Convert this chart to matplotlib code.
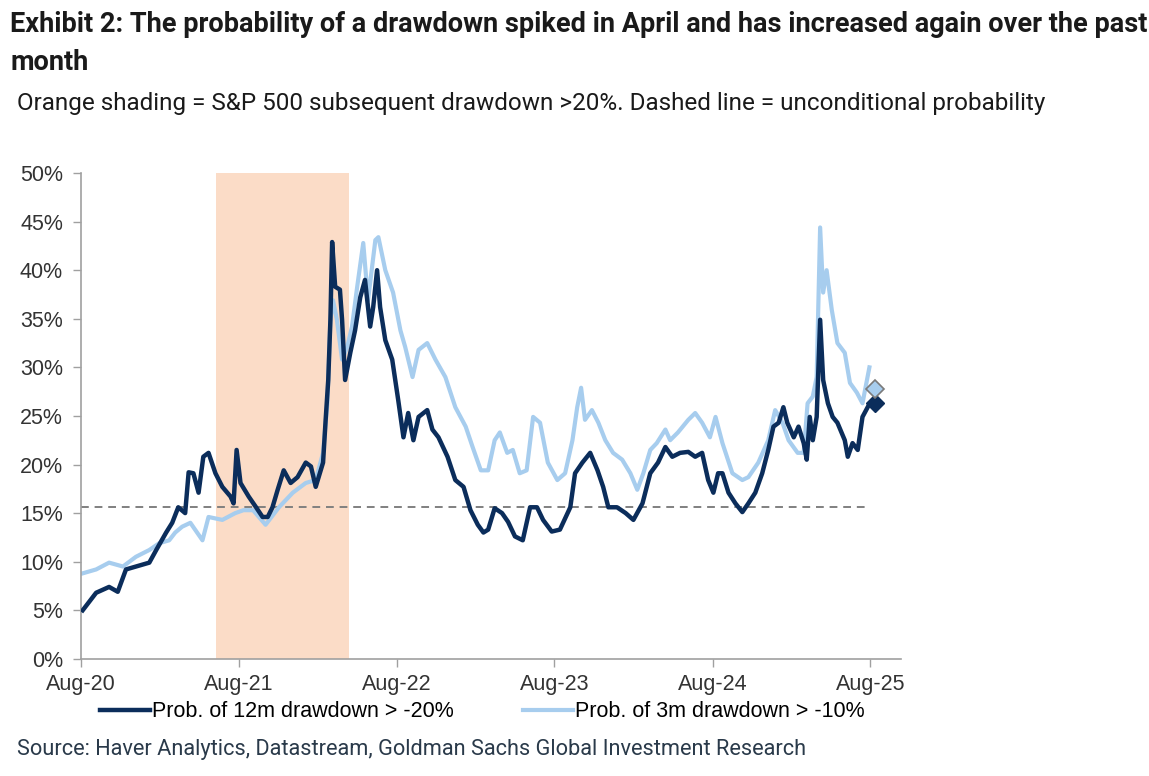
import matplotlib
matplotlib.use("Agg")
import matplotlib.pyplot as plt
import matplotlib.dates as mdates
import pandas as pd

# Prob. of 12m drawdown > -20% (dark)
dark_dates = [
    "2020-08-05", "2020-09-05", "2020-10-05", "2020-10-25", "2020-11-13", "2020-12-06",
    "2021-01-06", "2021-01-22", "2021-02-14", "2021-02-28", "2021-03-14", "2021-03-30",
    "2021-04-07", "2021-04-18", "2021-04-30", "2021-05-11", "2021-05-23", "2021-06-08",
    "2021-06-24", "2021-07-13", "2021-07-20", "2021-07-27", "2021-08-05", "2021-08-24",
    "2021-09-10", "2021-09-25", "2021-10-07", "2021-10-18", "2021-10-30", "2021-11-13",
    "2021-11-29", "2021-12-15", "2022-01-03", "2022-01-15", "2022-01-26", "2022-02-12",
    "2022-02-18", "2022-02-24", "2022-03-01", "2022-03-05", "2022-03-12", "2022-03-23",
    "2022-03-28", "2022-04-04", "2022-04-16", "2022-04-27", "2022-05-09", "2022-05-20",
    "2022-06-01", "2022-06-08", "2022-06-17", "2022-06-24", "2022-07-06", "2022-07-22",
    "2022-08-05", "2022-08-17", "2022-08-28", "2022-09-09", "2022-09-21", "2022-10-11",
    "2022-10-23", "2022-11-06", "2022-11-27", "2022-12-15", "2023-01-03", "2023-01-19",
    "2023-02-05", "2023-02-18", "2023-03-01", "2023-03-16", "2023-04-02", "2023-04-16",
    "2023-05-02", "2023-05-20", "2023-06-06", "2023-06-22", "2023-07-06", "2023-07-26",
    "2023-08-14", "2023-09-07", "2023-09-18", "2023-10-05", "2023-10-23", "2023-11-09",
    "2023-11-22", "2023-12-04", "2023-12-24", "2024-01-13", "2024-01-31", "2024-02-21",
    "2024-03-10", "2024-03-28", "2024-04-14", "2024-04-30", "2024-05-18", "2024-06-06",
    "2024-06-22", "2024-07-08", "2024-07-22", "2024-08-03", "2024-08-14", "2024-08-24",
    "2024-09-07", "2024-09-23", "2024-10-09", "2024-10-23", "2024-11-08", "2024-11-24",
    "2024-12-08", "2024-12-20", "2025-01-01", "2025-01-12", "2025-01-21", "2025-02-05",
    "2025-02-16", "2025-02-28", "2025-03-07", "2025-03-14", "2025-03-21", "2025-03-30",
    "2025-04-07", "2025-04-14", "2025-04-25", "2025-05-06", "2025-05-17", "2025-06-03",
    "2025-06-10", "2025-06-21", "2025-07-03", "2025-07-14", "2025-07-26",
]
dark_vals = [
    5.0, 6.8, 7.4, 6.9, 9.2, 9.5,
    9.9, 11.2, 13.0, 14.0, 15.6, 15.0,
    19.2, 19.1, 17.1, 20.8, 21.2, 19.1,
    17.7, 16.7, 16.0, 21.5, 18.1, 16.7,
    15.6, 14.6, 14.6, 15.6, 17.4, 19.4,
    18.1, 18.7, 20.2, 19.8, 17.7, 20.2,
    24.6, 28.7, 34.9, 42.9, 38.3, 38.0,
    34.9, 28.7, 31.5, 33.8, 37.2, 39.0,
    34.2, 36.2, 40.0, 36.2, 32.8, 30.8,
    26.6, 22.8, 25.3, 22.5, 24.9, 25.6,
    23.6, 22.8, 20.8, 18.4, 17.7, 15.3,
    13.8, 13.0, 13.3, 15.5, 15.0, 14.1,
    12.6, 12.2, 15.6, 15.6, 14.3, 13.1,
    13.3, 15.6, 19.1, 20.2, 21.2, 19.4,
    17.7, 15.6, 15.6, 15.0, 14.3, 16.0,
    19.1, 20.2, 21.8, 20.8, 21.2, 21.3,
    20.8, 21.2, 18.4, 17.1, 19.1, 19.1,
    17.1, 16.0, 15.1, 16.0, 17.1, 19.1,
    21.5, 23.9, 24.3, 25.9, 24.3, 22.8,
    23.9, 22.2, 20.5, 24.9, 22.5, 24.9,
    34.9, 28.7, 26.3, 24.9, 24.3, 22.5,
    20.8, 22.2, 21.5, 24.9, 25.9,
]

# Prob. of 3m drawdown > -10% (light)
light_dates = [
    "2020-08-05", "2020-09-05", "2020-10-05", "2020-11-06", "2020-12-06", "2021-01-06",
    "2021-01-29", "2021-02-21", "2021-03-07", "2021-03-23", "2021-04-11", "2021-05-09",
    "2021-05-23", "2021-06-24", "2021-07-24", "2021-08-12", "2021-09-03", "2021-10-02",
    "2021-11-02", "2021-12-04", "2022-01-03", "2022-01-26", "2022-02-12", "2022-02-22",
    "2022-03-01", "2022-03-07", "2022-03-16", "2022-03-28", "2022-04-09", "2022-04-20",
    "2022-05-02", "2022-05-16", "2022-05-27", "2022-06-13", "2022-06-20", "2022-07-06",
    "2022-07-24", "2022-08-10", "2022-08-21", "2022-09-07", "2022-09-21", "2022-10-11",
    "2022-10-30", "2022-11-22", "2022-12-15", "2023-01-08", "2023-01-24", "2023-02-12",
    "2023-03-01", "2023-03-16", "2023-03-28", "2023-04-14", "2023-04-27", "2023-05-13",
    "2023-05-29", "2023-06-13", "2023-06-29", "2023-07-17", "2023-08-08", "2023-08-26",
    "2023-09-12", "2023-09-23", "2023-10-02", "2023-10-11", "2023-10-27", "2023-11-11",
    "2023-11-27", "2023-12-15", "2024-01-05", "2024-01-24", "2024-02-09", "2024-02-23",
    "2024-03-10", "2024-03-25", "2024-04-14", "2024-04-25", "2024-05-13", "2024-06-06",
    "2024-06-22", "2024-07-08", "2024-07-26", "2024-08-08", "2024-08-24", "2024-09-16",
    "2024-10-09", "2024-10-23", "2024-11-15", "2024-12-08", "2024-12-24", "2025-01-10",
    "2025-01-24", "2025-02-14", "2025-02-28", "2025-03-09", "2025-03-21", "2025-03-30",
    "2025-04-07", "2025-04-14", "2025-04-22", "2025-05-04", "2025-05-17", "2025-06-03",
    "2025-06-15", "2025-07-01", "2025-07-14", "2025-07-30",
]
light_vals = [
    8.8, 9.2, 9.9, 9.5, 10.5, 11.2,
    11.9, 12.2, 13.0, 13.6, 14.0, 12.2,
    14.6, 14.3, 15.0, 15.3, 15.3, 13.8,
    15.6, 17.1, 18.1, 18.4, 21.2, 26.3,
    34.9, 36.9, 34.9, 30.8, 32.1, 34.2,
    38.3, 42.8, 36.9, 43.1, 43.4, 40.0,
    37.7, 33.8, 32.1, 29.0, 31.8, 32.5,
    30.8, 29.0, 25.9, 23.9, 21.8, 19.4,
    19.4, 22.5, 23.3, 21.2, 21.5, 19.1,
    19.4, 24.9, 24.3, 20.2, 18.4, 19.1,
    22.5, 25.9, 27.9, 24.6, 25.6, 24.3,
    22.5, 21.2, 20.5, 19.1, 17.4, 19.1,
    21.5, 22.2, 23.6, 22.5, 23.3, 24.6,
    25.3, 24.3, 22.8, 24.9, 22.2, 19.1,
    18.4, 18.7, 20.2, 22.5, 25.6, 24.3,
    22.5, 21.2, 21.2, 26.3, 27.0, 29.0,
    44.4, 37.7, 40.0, 35.9, 32.5, 31.5,
    28.4, 27.4, 26.3, 30.0,
]

latest_date = "2025-08-12"
latest_dark = 26.3
latest_light = 27.8
unconditional = 15.6
shade_start, shade_end = "2021-06-10", "2022-04-14"

labels = ["Prob. of 12m drawdown > -20%", "Prob. of 3m drawdown > -10%"]
tick_dates = ["2020-08-01", "2021-08-01", "2022-08-01", "2023-08-01", "2024-08-01", "2025-08-01"]

navy = "#0b2d5b"
light = "#a7cdee"
arial = ["Liberation Sans", "DejaVu Sans"]
cond = ["Roboto", "DejaVu Sans"]

fig = plt.figure(figsize=(11.49, 7.76), dpi=100)
ax = fig.add_axes([0.0705, 0.151, 0.714, 0.626])

ax.axvspan(pd.Timestamp(shade_start), pd.Timestamp(shade_end), color="#fbdcc7", lw=0, zorder=0)
ax.hlines(unconditional, pd.Timestamp("2020-08-01"), pd.Timestamp("2025-08-01"),
          colors="#808080", linestyles=(0, (4, 3)), lw=1.4, zorder=1)

ld = pd.to_datetime(light_dates)
dd = pd.to_datetime(dark_dates)
l_line, = ax.plot(ld, light_vals, color=light, lw=3.0, zorder=2, label=labels[1])
d_line, = ax.plot(dd, dark_vals, color=navy, lw=3.2, zorder=3, label=labels[0])
ax.plot(pd.Timestamp(latest_date), latest_dark, marker="D", ms=9, color=navy,
        mec=navy, zorder=5)
ax.plot(pd.Timestamp(latest_date), latest_light, marker="D", ms=9, color=light,
        mec="#7a7a7a", mew=1.2, zorder=5)

ax.set_xlim(pd.Timestamp("2020-08-01"), pd.Timestamp("2025-10-12"))
ax.set_ylim(0, 50)
ax.set_yticks(range(0, 51, 5))
ax.set_yticklabels([f"{v}%" for v in range(0, 51, 5)])
ax.set_xticks(pd.to_datetime(tick_dates))
ax.xaxis.set_major_formatter(mdates.DateFormatter("%b-%y"))

for s in ["top", "right"]:
    ax.spines[s].set_visible(False)
for s in ["left", "bottom"]:
    ax.spines[s].set_color("#a0a0a0")
    ax.spines[s].set_linewidth(1.2)
ax.tick_params(axis="both", colors="#a0a0a0", length=6, width=1.0,
               labelsize=15.5, labelcolor="#333333")
ax.tick_params(axis="x", pad=5)
ax.tick_params(axis="y", pad=7)
for lab in ax.get_xticklabels() + ax.get_yticklabels():
    lab.set_family(arial)

fig.legend(handles=[d_line, l_line], labels=labels, loc="center",
           bbox_to_anchor=(0.42, 0.083), ncol=2, frameon=False, handlelength=2.3,
           handletextpad=0.12, columnspacing=3.2,
           prop={"family": arial, "size": 15.5})

fig.text(0.009, 0.968, "Exhibit 2: The probability of a drawdown spiked in April and has increased again over the past",
         fontsize=19.5, fontweight="bold", family=cond, color="#1a1a1a", va="center")
fig.text(0.009, 0.920, "month", fontsize=19.5, fontweight="bold", family=cond,
         color="#1a1a1a", va="center")
fig.text(0.015, 0.867, "Orange shading = S&P 500 subsequent drawdown >20%. Dashed line = unconditional probability",
         fontsize=17.5, family=cond, color="#1a1a1a", va="center")
fig.text(0.015, 0.034, "Source: Haver Analytics, Datastream, Goldman Sachs Global Investment Research",
         fontsize=15.7, family=cond, color="#2a3a4a", va="center")

fig.savefig("out.png", dpi=100)
